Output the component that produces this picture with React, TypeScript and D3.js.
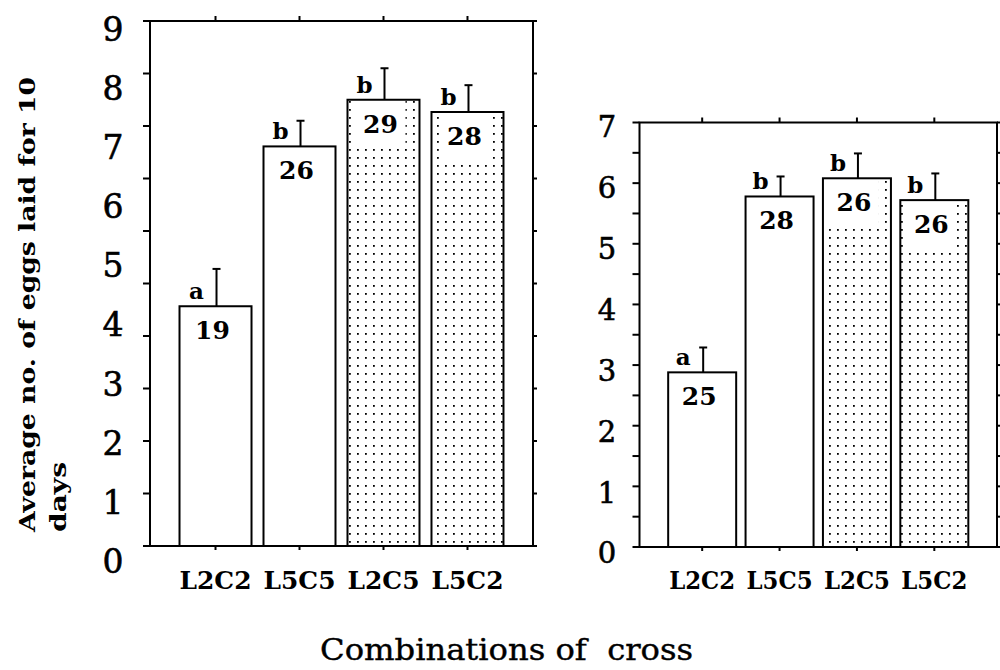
import React from 'react';
import * as d3 from 'd3';

const categories = ['L2C2', 'L5C5', 'L2C5', 'L5C2'];
const stippled = [false, false, true, true];

const leftMeans = [4.11, 6.85, 7.65, 7.44];
const leftSE = [0.64, 0.44, 0.54, 0.46];
const leftN = ['19', '26', '29', '28'];
const leftLetters = ['a', 'b', 'b', 'b'];
const leftTickLabels = [0, 1, 2, 3, 4, 5, 6, 7, 8, 9];

const rightMeans = [2.88, 5.78, 6.08, 5.72];
const rightSE = [0.41, 0.33, 0.41, 0.44];
const rightN = ['25', '28', '26', '26'];
const rightLetters = ['a', 'b', 'b', 'b'];
const rightTickLabels = [0, 1, 2, 3, 4, 5, 6, 7];

const yTitleLine1 = 'Average no. of eggs laid for 10';
const yTitleLine2 = 'days';
const xTitle = 'Combinations of  cross';

const SERIF = '"DejaVu Serif", serif';

type PanelCfg = {
  means: number[];
  se: number[];
  ns: string[];
  letters: string[];
  tickLabels: number[];
  yMax: number;
  sideStep: number;
  left: number;
  right: number;
  top: number;
  bottom: number;
  pad: number;
  barWidth: number;
  labelX: number;
  labelRange: [number, number];
  labelSize: number;
  catSize: number;
  catLen: number;
};

const leftPanel: PanelCfg = {
  means: leftMeans,
  se: leftSE,
  ns: leftN,
  letters: leftLetters,
  tickLabels: leftTickLabels,
  yMax: 9,
  sideStep: 0.9,
  left: 150,
  right: 533,
  top: 21,
  bottom: 546,
  pad: 0.78,
  barWidth: 72,
  labelX: 113,
  labelRange: [561, 29],
  labelSize: 33,
  catSize: 25,
  catLen: 72,
};

const rightPanel: PanelCfg = {
  means: rightMeans,
  se: rightSE,
  ns: rightN,
  letters: rightLetters,
  tickLabels: rightTickLabels,
  yMax: 7,
  sideStep: 0.5,
  left: 639.5,
  right: 997,
  top: 122.5,
  bottom: 547,
  pad: 0.81,
  barWidth: 68,
  labelX: 607,
  labelRange: [553, 127],
  labelSize: 29,
  catSize: 24,
  catLen: 66,
};

function Panel({ p }: { p: PanelCfg }) {
  const y = d3.scaleLinear().domain([0, p.yMax]).range([p.bottom, p.top]);
  const x = d3.scalePoint<string>().domain(categories).range([p.left, p.right]).padding(p.pad);
  const lab = d3.scaleLinear().domain([0, p.yMax]).range(p.labelRange);
  const sideTicks = d3.range(0, p.yMax + 1e-9, p.sideStep);
  const sw = 2;
  return (
    <g>
      {categories.map((c, i) => {
        const cx = x(c) as number;
        const top = y(p.means[i]);
        const errTop = y(p.means[i] + p.se[i]);
        return (
          <g key={c}>
            <rect x={cx - p.barWidth / 2} y={top} width={p.barWidth} height={y(0) - top} fill="#fff" />
            {stippled[i] && (
              <rect x={cx - p.barWidth / 2} y={top} width={p.barWidth} height={y(0) - top} fill="url(#dots)" />
            )}
            {stippled[i] && <rect x={cx - 3 - 25} y={top + 1} width={50} height={46} fill="#fff" />}
            <rect
              x={cx - p.barWidth / 2}
              y={top}
              width={p.barWidth}
              height={y(0) - top}
              fill="none"
              stroke="#000"
              strokeWidth={sw}
            />
            <line x1={cx + 1} x2={cx + 1} y1={top} y2={errTop} stroke="#000" strokeWidth={sw} />
            <line x1={cx + 1 - 4} x2={cx + 1 + 4} y1={errTop} y2={errTop} stroke="#000" strokeWidth={sw} />
            <text x={cx - 19} y={top - 7} textAnchor="middle" fontFamily={SERIF} fontWeight="bold" fontSize={23}>
              {p.letters[i]}
            </text>
            <text x={cx - 3} y={top + 33} textAnchor="middle" fontFamily={SERIF} fontWeight="bold" fontSize={25}>
              {p.ns[i]}
            </text>
            <text
              x={cx}
              y={589}
              textAnchor="middle"
              fontFamily={SERIF}
              fontWeight="bold"
              fontSize={p.catSize}
              textLength={p.catLen}
              lengthAdjust="spacingAndGlyphs"
            >
              {c}
            </text>
            <line x1={cx} x2={cx} y1={p.top} y2={p.top - 5} stroke="#000" strokeWidth={sw} />
            <line x1={cx} x2={cx} y1={p.bottom} y2={p.bottom + 4} stroke="#000" strokeWidth={sw} />
          </g>
        );
      })}
      <rect x={p.left} y={p.top} width={p.right - p.left} height={p.bottom - p.top} fill="none" stroke="#000" strokeWidth={sw} />
      {sideTicks.map((t, i) => (
        <g key={i}>
          <line x1={p.left - 7} x2={p.left} y1={y(t)} y2={y(t)} stroke="#000" strokeWidth={sw} />
          <line x1={p.right} x2={p.right + 4} y1={y(t)} y2={y(t)} stroke="#000" strokeWidth={sw} />
        </g>
      ))}
      {p.tickLabels.map((v) => (
        <text
          key={v}
          x={p.labelX}
          y={lab(v) + 0.36 * p.labelSize}
          textAnchor="middle"
          fontFamily={SERIF}
          fontSize={p.labelSize}
          stroke="#000"
          strokeWidth={0.6}
        >
          {v}
        </text>
      ))}
    </g>
  );
}

export default function App() {
  return (
    <svg
      width={1000}
      height={670}
      viewBox="0 0 1000 670"
      style={{ position: 'absolute', left: 0, top: 0, background: '#fff' }}
    >
      <defs>
        <pattern id="dots" width={8} height={8} patternUnits="userSpaceOnUse" x={2} y={2}>
          <rect x={3} y={3} width={1.8} height={1.8} fill="#000" />
        </pattern>
      </defs>
      <rect x={0} y={0} width={1000} height={670} fill="#fff" />
      <Panel p={leftPanel} />
      <Panel p={rightPanel} />
      <text
        transform="translate(35,532) rotate(-90)"
        fontFamily={SERIF}
        fontWeight="bold"
        fontSize={22}
        textLength={455}
        lengthAdjust="spacingAndGlyphs"
      >
        {yTitleLine1}
      </text>
      <text
        transform="translate(66,532) rotate(-90)"
        fontFamily={SERIF}
        fontWeight="bold"
        fontSize={22}
        textLength={70}
        lengthAdjust="spacingAndGlyphs"
      >
        {yTitleLine2}
      </text>
      <text
        x={506.5}
        y={660}
        textAnchor="middle"
        fontFamily={SERIF}
        fontSize={30}
        textLength={373}
        lengthAdjust="spacingAndGlyphs"
        stroke="#000"
        strokeWidth={0.4}
        style={{ whiteSpace: 'pre' }}
      >
        {xTitle}
      </text>
    </svg>
  );
}
